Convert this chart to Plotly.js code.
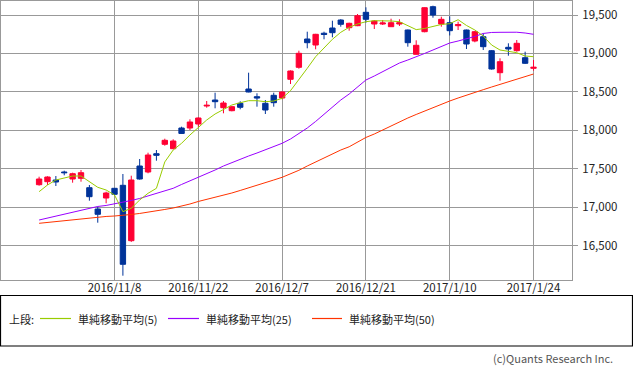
<!DOCTYPE html>
<html>
<head>
<meta charset="utf-8">
<script src="https://cdn.plot.ly/plotly-3.0.1.min.js"></script>
<style>
html,body{margin:0;padding:0;background:#fff;}
#chart{width:633px;height:368px;}
</style>
</head>
<body>
<div id="chart"></div>
<script>
const dates = [
 "2016-10-25","2016-10-26","2016-10-27","2016-10-28","2016-10-31",
 "2016-11-01","2016-11-02","2016-11-04","2016-11-07","2016-11-08",
 "2016-11-09","2016-11-10","2016-11-11","2016-11-14","2016-11-15",
 "2016-11-16","2016-11-17","2016-11-18","2016-11-21","2016-11-22",
 "2016-11-24","2016-11-25","2016-11-28","2016-11-29","2016-11-30",
 "2016-12-01","2016-12-02","2016-12-05","2016-12-06","2016-12-07",
 "2016-12-08","2016-12-09","2016-12-12","2016-12-13","2016-12-14",
 "2016-12-15","2016-12-16","2016-12-19","2016-12-20","2016-12-21",
 "2016-12-22","2016-12-26","2016-12-27","2016-12-28","2016-12-29",
 "2016-12-30","2017-01-04","2017-01-05","2017-01-06","2017-01-10",
 "2017-01-11","2017-01-12","2017-01-13","2017-01-16","2017-01-17",
 "2017-01-18","2017-01-19","2017-01-20","2017-01-23","2017-01-24"
];
const openP = [
 17294,17333,17355,17459,17368, 17377,17255,16978,17121,17247,
 17286,16566,17537,17459,17697, 17819,17762,18031,18031,18083,
 18317,18395,18295,18256,18352, 18538,18438,18352,18456,18421,
 18664,18820,19188,19110,19263, 19331,19435,19335,19361,19535,
 19383,19383,19348,19383,19305, 18989,19283,19608,19383,19400,
 19361,19305,19162,19218,19036, 18750,19080,19036,18945,18807
];
const highP = [
 17398,17403,17407,17476,17450, 17485,17290,17008,17203,17251,
 17433,17411,17628,17710,17745, 17892,17884,18048,18144,18170,
 18382,18490,18382,18317,18378, 18750,18482,18395,18490,18508,
 18780,19036,19283,19255,19283, 19426,19445,19400,19513,19600,
 19435,19435,19452,19444,19310, 19171,19600,19621,19478,19483,
 19413,19310,19292,19262,19045, 18937,19132,19175,19023,18915
];
const lowP = [
 17281,17290,17277,17416,17320, 17333,17086,16800,17052,17160,
 16111,16550,17360,17442,17606, 17801,17755,17955,18005,18048,
 18295,18287,18222,18248,18274, 18495,18308,18213,18308,18404,
 18603,18802,19067,19054,19184, 19210,19348,19296,19355,19400,
 19318,19370,19345,19357,19088, 18985,19275,19465,19348,19234,
 19305,19058,19145,19045,18790, 18646,18971,19023,18863,18776
];
const closeP = [
 17368,17394,17329,17450,17437, 17450,17138,16909,17186,17169,
 16259,17355,17368,17680,17676, 17871,17862,17960,18109,18161,
 18326,18373,18356,18308,18300, 18499,18421,18265,18360,18499,
 18772,19002,19140,19249,19247, 19270,19379,19392,19491,19444,
 19422,19396,19400,19400,19140, 19106,19595,19500,19444,19296,
 19375,19123,19283,19088,18798, 18893,19058,19132,18872,18820
];
const ma5 = [
 17203,17290,17355,17377,17407, 17407,17333,17260,17225,17160,
 16943,16987,17095,17182,17247, 17590,17745,17832,17940,18040,
 18135,18213,18274,18330,18360, 18386,18386,18373,18382,18417,
 18516,18655,18807,18958,19078, 19184,19275,19340,19383,19413,
 19426,19426,19422,19413,19365, 19310,19325,19348,19377,19387,
 19439,19364,19305,19227,19110, 19045,19023,19010,18967,18958
];
const ma25 = [
 16835,16861,16881,16913,16939, 16965,16985,17011,17024,17043,
 17063,17089,17115,17147,17180, 17212,17247,17297,17342,17388,
 17433,17485,17537,17583,17622, 17667,17706,17745,17784,17832,
 17888,17960,18031,18116,18213, 18304,18395,18473,18564,18655,
 18707,18766,18824,18876,18915, 18954,19000,19045,19091,19136,
 19162,19188,19221,19260,19273, 19275,19279,19276,19266,19249
];
const ma50 = [
 16792,16803,16816,16829,16842, 16857,16868,16874,16881,16887,
 16894,16907,16920,16935,16952, 16972,16991,17013,17043,17076,
 17102,17128,17154,17186,17219, 17251,17290,17323,17355,17390,
 17433,17481,17537,17589,17641, 17700,17745,17787,17849,17908,
 17953,18005,18057,18116,18161, 18207,18252,18298,18343,18382,
 18421,18460,18499,18529,18564, 18597,18636,18668,18700,18733
];
const tickDates = ["2016-11-08","2016-11-22","2016-12-07","2016-12-21","2017-01-10","2017-01-24"];
const tickText = ["2016/11/8","2016/11/22","2016/12/7","2016/12/21","2017/1/10","2017/1/24"];
const yTicks = [16500,17000,17500,18000,18500,19000,19500];
const legendNames = ["単純移動平均(5)","単純移動平均(25)","単純移動平均(50)"];

const RED = "#ff0033", BLUE = "#003399";
const C5 = "#99cc00", C25 = "#9900ff", C50 = "#ff3300";
const FONT = "'Noto Sans CJK JP', 'Noto Sans', sans-serif";

const traces = [
 {type:"scatter", mode:"lines", x:dates, y:ma50, line:{color:C50,width:1}, name:legendNames[2], showlegend:false, hoverinfo:"skip"},
 {type:"scatter", mode:"lines", x:dates, y:ma25, line:{color:C25,width:1}, name:legendNames[1], showlegend:false, hoverinfo:"skip"},
 {type:"scatter", mode:"lines", x:dates, y:ma5, line:{color:C5,width:1}, name:legendNames[0], showlegend:false, hoverinfo:"skip"},
 {type:"candlestick", x:dates, open:openP, high:highP, low:lowP, close:closeP,
  line:{width:1}, whiskerwidth:0,
  increasing:{line:{color:RED,width:1}, fillcolor:RED},
  decreasing:{line:{color:BLUE,width:1}, fillcolor:BLUE},
  showlegend:false, hoverinfo:"skip"}
];

// pixel -> paper helpers (plot area: x 1..572, y 1..280)
const L = 1, R = 572, T = 1, B = 280;
const px = v => (v - L) / (R - L);
const py = v => (B - v) / (B - T);

const legY = 318.5;
const shapes = [
 {type:"rect", xref:"paper", yref:"paper", x0:px(0.5), x1:px(632.5), y0:py(295.5), y1:py(346), line:{color:"#000",width:1.2}, fillcolor:"rgba(0,0,0,0)"},
 {type:"line", xref:"paper", yref:"paper", x0:px(40), x1:px(71), y0:py(legY), y1:py(legY), line:{color:C5,width:1.2}},
 {type:"line", xref:"paper", yref:"paper", x0:px(168), x1:px(199), y0:py(legY), y1:py(legY), line:{color:C25,width:1.2}},
 {type:"line", xref:"paper", yref:"paper", x0:px(312), x1:px(342), y0:py(legY), y1:py(legY), line:{color:C50,width:1.2}}
];
const annFont = {family:FONT, size:11, color:"#222"};
const annotations = [
 {xref:"paper", yref:"paper", x:px(7), y:py(legY), text:"上段:", showarrow:false, xanchor:"left", yanchor:"middle", font:annFont},
 {xref:"paper", yref:"paper", x:px(76), y:py(legY), text:legendNames[0], showarrow:false, xanchor:"left", yanchor:"middle", font:annFont},
 {xref:"paper", yref:"paper", x:px(204), y:py(legY), text:legendNames[1], showarrow:false, xanchor:"left", yanchor:"middle", font:annFont},
 {xref:"paper", yref:"paper", x:px(347), y:py(legY), text:legendNames[2], showarrow:false, xanchor:"left", yanchor:"middle", font:annFont},
 {xref:"paper", yref:"paper", x:px(615), y:py(358), text:"(c)Quants Research Inc.", showarrow:false, xanchor:"right", yanchor:"middle", font:{family:FONT, size:11, color:"#555"}}
];

// x: index px = 39.1 + 8.38*i
const xr = [(L - 39.1) / 8.38, (R - 39.1) / 8.38];
// y: price = 19500 - (y-15)*13
const yr = [19500 - (B - 15) * 13, 19500 - (T - 15) * 13];

const layout = {
 width:633, height:368,
 margin:{l:L, r:633 - R, t:T, b:368 - B, pad:0},
 paper_bgcolor:"#fff", plot_bgcolor:"#fff",
 showlegend:false, hovermode:false,
 boxgap:0.2, boxgroupgap:0.2,
 font:{family:FONT, size:11, color:"#222"},
 xaxis:{type:"category", range:xr, rangeslider:{visible:false},
  tickmode:"array", tickvals:tickDates, ticktext:tickText,
  showgrid:true, gridcolor:"#999", gridwidth:1,
  showline:true, mirror:true, linecolor:"#999", linewidth:1,
  ticks:"", ticklabelstandoff:-3, tickfont:{family:FONT, size:11.5, color:"#222"}, zeroline:false, fixedrange:true},
 yaxis:{side:"right", range:yr, tickmode:"array", tickvals:yTicks, tickformat:",",
  showgrid:true, gridcolor:"#999", gridwidth:1,
  showline:true, mirror:true, linecolor:"#999", linewidth:1,
  ticks:"outside", ticklen:5, tickcolor:"#999", tickwidth:1, ticklabelstandoff:2,
  tickfont:{family:FONT, size:11.5, color:"#222"}, zeroline:false, fixedrange:true},
 shapes:shapes, annotations:annotations
};

Plotly.newPlot("chart", traces, layout, {displayModeBar:false, staticPlot:true});
</script>
</body>
</html>
